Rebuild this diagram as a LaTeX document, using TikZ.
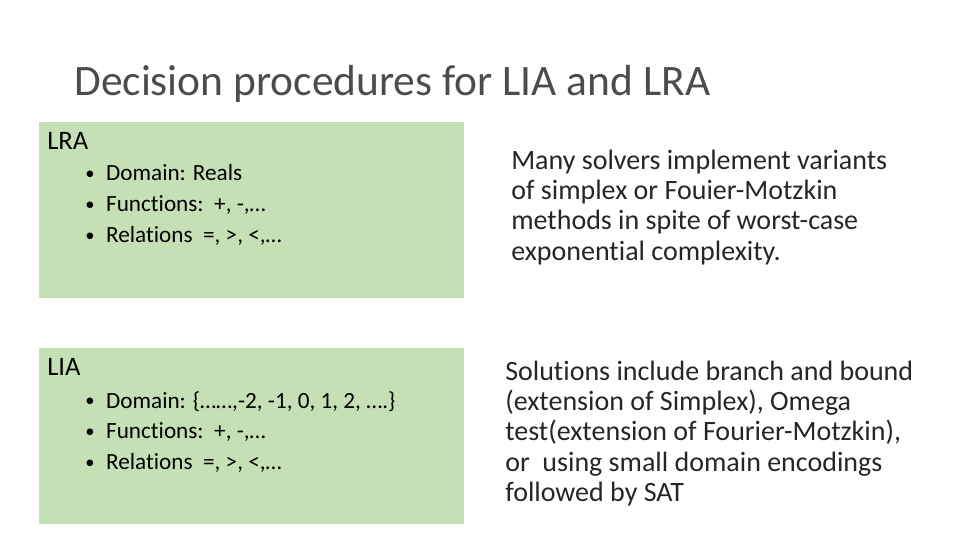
\documentclass[tikz,border=0pt]{standalone}
\usepackage{fontspec}
\setmainfont[Ligatures=NoCommon]{Carlito}
\usetikzlibrary{positioning}
\definecolor{boxgreen}{HTML}{C5E0B4}
\newcommand{\itm}{\raisebox{0.1ex}{\scalebox{0.8}{\textbullet}}\enspace}
\begin{document}
\begin{tikzpicture}[x=0.75pt,y=-0.75pt,
            panel/.style={fill=boxgreen, draw=none, minimum width=425*0.75pt, minimum height=176*0.75pt, anchor=north west, inner sep=0pt},
            head/.style={anchor=west, inner sep=0pt, font=\fontsize{20}{24}\selectfont},
            items/.style={anchor=north west, inner sep=0pt, align=left, font=\fontsize{17.4}{23.2}\selectfont},
            note/.style={anchor=north west, inner sep=0pt, align=left, font=\fontsize{21}{22.6}\selectfont, color=black!85}]
        \useasboundingbox (0,0) rectangle (960,540);
        \node[anchor=base west, inner sep=0pt, font=\fontsize{32.6}{36}\selectfont, color=black!70] (title) at (74,95) {Decision procedures for LIA and LRA};

        % LRA
        \node[panel] (lrabox) at (39,122) {};
        \node[head] (lrahead) at (47,141) {LRA};
        \node[items] (lraitems) at (85,164) {\itm Domain: Reals\\ \itm Functions:\ \ +, -,\dots\\ \itm Relations\ \ =, >, <,\dots};
        \node[note] (lranote) at (511,150) {Many solvers implement variants\\ of simplex or Fouier-Motzkin\\ methods in spite of worst-case\\ exponential complexity.};

        % LIA
        \node[panel] (liabox) at (39,348) {};
        \node[head] (liahead) at (47,367) {LIA};
        \node[items] (liaitems) at (85,391) {\itm Domain: \{\dots\dots,-2, -1, 0, 1, 2, \dots.\}\\ \itm Functions:\ \ +, -,\dots\\ \itm Relations\ \ =, >, <,\dots};
        \node[note] (lianote) at (505,361) {Solutions include branch and bound\\ (extension of Simplex), Omega\\ test(extension of Fourier-Motzkin),\\ or\ \ using small domain encodings\\ followed by SAT};
\end{tikzpicture}
\end{document}
